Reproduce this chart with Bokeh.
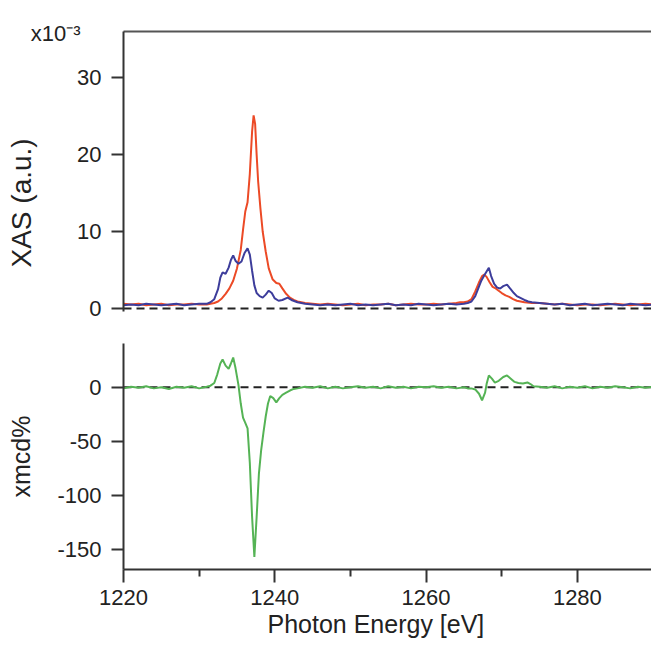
from bokeh.plotting import figure
from bokeh.models import Range1d, FixedTicker, LinearAxis, Span, Title
from bokeh.layouts import column
from bokeh.embed import file_html
from bokeh.resources import INLINE

# ---------------- data ----------------
x_ticks = [1220, 1240, 1260, 1280]
x_minor = [1230, 1250, 1270]
xas_ticks = [0, 10, 20, 30]
xmcd_ticks = [-150, -100, -50, 0]
multiplier_text = "x10\u207b\u00b3"

e_red = [1220, 1221, 1222, 1223, 1224, 1225, 1226, 1227, 1228, 1229, 1230, 1231,
         1231.5, 1232, 1232.5, 1233, 1233.5, 1234, 1234.5, 1235, 1235.5, 1235.8,
         1236.1, 1236.4, 1236.7, 1237.0, 1237.2, 1237.4, 1237.6, 1237.8, 1238.1,
         1238.4, 1238.8, 1239.2, 1239.7, 1240.2, 1240.6, 1241.0, 1241.5, 1242,
         1242.5, 1243, 1243.5, 1244, 1245, 1246, 1247, 1248, 1249, 1250, 1251,
         1252, 1253, 1254, 1255, 1256, 1257, 1258, 1259, 1260, 1261, 1262, 1263,
         1264, 1264.5, 1265, 1265.5, 1266, 1266.5, 1267, 1267.4, 1267.7, 1268,
         1268.4, 1268.8, 1269.2, 1269.6, 1270, 1270.5, 1271, 1271.5, 1272, 1272.5,
         1273, 1274, 1275, 1276, 1277, 1278, 1279, 1280, 1281, 1282, 1283, 1284,
         1285, 1286, 1287, 1288, 1289, 1290]
xas_red = [0.6, 0.5, 0.6, 0.4, 0.5, 0.6, 0.4, 0.5, 0.5, 0.6, 0.5, 0.5,
           0.6, 0.7, 0.9, 1.3, 1.9, 2.6, 3.6, 5.2, 7.6, 10.2,
           12.6, 13.8, 17.5, 23.0, 25.1, 24.0, 20.0, 16.5, 13.0,
           10.0, 7.4, 5.2, 3.8, 3.3, 3.2, 2.6, 1.9, 1.4,
           1.1, 0.9, 0.8, 0.7, 0.6, 0.5, 0.6, 0.5, 0.4, 0.5, 0.6,
           0.4, 0.5, 0.5, 0.6, 0.4, 0.5, 0.6, 0.5, 0.5, 0.6, 0.5, 0.6,
           0.7, 0.8, 0.8, 0.9, 1.2, 2.2, 3.4, 4.2, 4.4, 4.1,
           3.4, 2.8, 2.6, 2.3, 2.0, 1.7, 1.5, 1.2, 1.0, 0.9,
           0.8, 0.7, 0.7, 0.6, 0.5, 0.6, 0.5, 0.4, 0.5, 0.5, 0.4, 0.5,
           0.6, 0.5, 0.4, 0.5, 0.6, 0.5]

e_blue = [1220, 1221, 1222, 1223, 1224, 1225, 1226, 1227, 1228, 1229, 1230, 1231,
          1231.5, 1232, 1232.5, 1232.8, 1233.1, 1233.5, 1233.9, 1234.2, 1234.5,
          1234.8, 1235.2, 1235.6, 1236.0, 1236.4, 1236.7, 1237.0, 1237.3, 1237.6,
          1238.0, 1238.4, 1238.8, 1239.2, 1239.6, 1240.0, 1240.5, 1241, 1241.7,
          1242.2, 1243, 1244, 1245, 1246, 1247, 1248, 1249, 1250, 1251, 1252, 1253,
          1254, 1255, 1256, 1257, 1258, 1259, 1260, 1261, 1262, 1263, 1264, 1265,
          1265.5, 1266, 1266.5, 1266.9, 1267.3, 1267.7, 1268.0, 1268.3, 1268.6,
          1269.0, 1269.4, 1269.8, 1270.2, 1270.7, 1271.1, 1271.6, 1272.0, 1272.4,
          1273, 1273.5, 1274, 1275, 1276, 1277, 1278, 1279, 1280, 1281, 1282, 1283,
          1284, 1285, 1286, 1287, 1288, 1289, 1290]
xas_blue = [0.4, 0.5, 0.4, 0.6, 0.5, 0.4, 0.5, 0.6, 0.4, 0.5, 0.6, 0.6,
            0.8, 1.2, 2.5, 4.0, 4.7, 4.5, 5.3, 6.3, 6.9,
            6.2, 5.8, 6.1, 7.2, 7.8, 7.0, 4.9, 3.0, 2.0,
            1.6, 1.4, 1.8, 2.3, 2.0, 1.3, 1.0, 1.1, 1.4,
            1.1, 0.8, 0.6, 0.5, 0.4, 0.5, 0.4, 0.5, 0.6, 0.4, 0.5, 0.4,
            0.5, 0.6, 0.4, 0.5, 0.4, 0.6, 0.5, 0.4, 0.5, 0.6, 0.5, 0.6,
            0.7, 0.9, 1.6, 2.6, 3.6, 4.3, 4.8, 5.3, 4.2,
            3.2, 2.7, 2.6, 2.9, 3.1, 2.6, 2.0, 1.6, 1.4,
            1.1, 0.9, 0.8, 0.7, 0.6, 0.5, 0.6, 0.4, 0.5, 0.6, 0.4, 0.5,
            0.6, 0.5, 0.4, 0.6, 0.5, 0.4, 0.5]

e_xmcd = [1220, 1221, 1222, 1223, 1224, 1225, 1226, 1227, 1228, 1229, 1230, 1231,
          1231.5, 1232, 1232.4, 1232.8, 1233.1, 1233.5, 1233.9, 1234.2, 1234.5,
          1234.8, 1235.2, 1235.5, 1235.8, 1236.1, 1236.4, 1236.7, 1237.0, 1237.3,
          1237.6, 1237.9, 1238.2, 1238.5, 1238.8, 1239.1, 1239.4, 1239.8, 1240.2,
          1240.6, 1241.0, 1241.5, 1242, 1242.5, 1243, 1244, 1245, 1246, 1247, 1248,
          1249, 1250, 1251, 1252, 1253, 1254, 1255, 1256, 1257, 1258, 1259, 1260,
          1261, 1262, 1263, 1264, 1265, 1265.5, 1266, 1266.5, 1267, 1267.4, 1267.8,
          1268.0, 1268.3, 1268.7, 1269.1, 1269.6, 1270.2, 1270.7, 1271.2, 1271.7,
          1272.2, 1272.8, 1273.4, 1273.8, 1274.2, 1275, 1276, 1277, 1278, 1279,
          1280, 1281, 1282, 1283, 1284, 1285, 1286, 1287, 1288, 1289, 1290]
xmcd = [-1.0, 0.5, -0.5, 1.0, -1.0, 0.0, -1.5, 0.5, -0.5, 1.0, -1.0, 0.5,
        1.5, 4.0, 12.0, 22.0, 25.7, 20.0, 17.0, 22.0, 27.5,
        18.0, 2.0, -15.0, -28.0, -33.0, -38.0, -70.0, -120.0, -157.0,
        -120.0, -80.0, -58.0, -42.0, -27.0, -15.0, -8.0, -10.0, -14.0,
        -10.0, -7.0, -5.0, -3.0, -1.5, -1.0, 0.5, -0.5, 1.0, -1.0, 0.5,
        -1.0, 0.0, 1.0, -0.5, 0.5, -1.0, 1.0, -0.5, 0.5, -1.0, 0.5, 0.0,
        1.0, -0.5, 0.5, -1.0, 0.0, -1.0, -1.0, -2.0, -6.0, -12.0, -5.0,
        3.0, 11.0, 8.0, 4.4, 6.0, 9.5, 11.0, 8.0, 5.0,
        4.0, 3.5, 4.5, 3.0, 1.0, 0.5, -0.5, 1.0, -1.0, 0.5,
        -0.5, 1.0, -1.0, 0.5, -0.5, 1.0, 0.0, -1.0, 0.5, -0.5, 0.5]

# ---------------- styling ----------------
FONT = "Liberation Sans"
AXIS_COLOR = "#333333"
TEXT_COLOR = "#222222"
RED = "#ec4a26"
BLUE = "#3d3d9b"
GREEN = "#55b355"
TICK_FONT = "22px"

x_range = Range1d(1220, 1289.8)


def style_main_y(ax, ticks):
    ax.ticker = FixedTicker(ticks=ticks)
    ax.major_label_overrides = {t: str(t) for t in ticks}
    ax.major_label_text_font = FONT
    ax.major_label_text_font_size = TICK_FONT
    ax.major_label_text_color = TEXT_COLOR
    ax.major_label_standoff = 10
    ax.major_tick_out = 12
    ax.major_tick_in = 0
    ax.minor_tick_out = 0
    ax.minor_tick_in = 0
    ax.axis_line_color = AXIS_COLOR
    ax.axis_line_width = 2
    ax.major_tick_line_color = AXIS_COLOR
    ax.major_tick_line_width = 2


def make_title(text, size, offset, standoff, fallback_standoff):
    kw = dict(text=text, align="left", vertical_align="bottom", offset=offset,
              text_font=FONT, text_font_size=size, text_font_style="normal",
              text_color=TEXT_COLOR)
    try:
        return Title(standoff=standoff, **kw)
    except Exception:
        return Title(standoff=fallback_standoff, **kw)


# ---------------- top panel: XAS ----------------
top = figure(width=651, height=327, x_range=x_range, y_range=Range1d(-0.4, 36),
             output_backend="svg", toolbar_location=None,
             x_axis_location=None, y_axis_location="left",
             min_border_left=123, min_border_right=0,
             min_border_top=31, min_border_bottom=16)
top.outline_line_color = None
top.grid.visible = False
style_main_y(top.yaxis[0], xas_ticks)

# scale multiplier "x10^-3" as the only tick label of a bare middle axis
mult_axis = LinearAxis(ticker=FixedTicker(ticks=[35.7]),
                       major_label_overrides={35.7: multiplier_text},
                       axis_line_color=None, major_tick_out=0, major_tick_in=0,
                       minor_tick_out=0, minor_tick_in=0,
                       major_label_standoff=-6,
                       major_label_text_font=FONT, major_label_text_font_size=TICK_FONT,
                       major_label_text_color=TEXT_COLOR)
top.add_layout(mult_axis, "left")
# rotated y label, positioned along the axis like the original
top.add_layout(make_title("XAS (a.u.)", "28px", 44, -18, 0), "left")

# top frame border
top_axis = LinearAxis(ticker=FixedTicker(ticks=[]), axis_line_color="#555555",
                      axis_line_width=2, major_tick_out=0, major_tick_in=0,
                      minor_tick_out=0, minor_tick_in=0)
top.add_layout(top_axis, "above")

top.add_layout(Span(location=0, dimension="width", line_color="#222222",
                    line_width=2, line_dash="8 5", level="underlay"))
top.line(e_red, xas_red, line_color=RED, line_width=2)
top.line(e_blue, xas_blue, line_color=BLUE, line_width=2)

# ---------------- bottom panel: XMCD ----------------
bot = figure(width=651, height=318, x_range=x_range, y_range=Range1d(-168.5, 40.5),
             output_backend="svg", toolbar_location=None,
             min_border_left=123, min_border_right=0,
             min_border_top=16, min_border_bottom=76)
bot.outline_line_color = None
bot.grid.visible = False
ya = bot.yaxis[0]
style_main_y(ya, xmcd_ticks)
ya.axis_label = "xmcd%"
ya.axis_label_text_font = FONT
ya.axis_label_text_font_size = "25px"
ya.axis_label_text_font_style = "normal"
ya.axis_label_text_color = TEXT_COLOR
ya.axis_label_standoff = 19

xa = bot.xaxis[0]
xa.ticker = FixedTicker(ticks=x_ticks, minor_ticks=x_minor)
xa.major_label_text_font = FONT
xa.major_label_text_font_size = TICK_FONT
xa.major_label_text_color = TEXT_COLOR
xa.major_label_standoff = 7
xa.major_tick_out = 13
xa.major_tick_in = 0
xa.minor_tick_out = 7
xa.minor_tick_in = 0
xa.axis_line_color = AXIS_COLOR
xa.axis_line_width = 2
xa.major_tick_line_color = AXIS_COLOR
xa.major_tick_line_width = 2
xa.minor_tick_line_color = AXIS_COLOR
xa.minor_tick_line_width = 2
bot.add_layout(make_title("Photon Energy [eV]", "25px", 144, 1, 1), "below")

bot.add_layout(Span(location=0, dimension="width", line_color="#222222",
                    line_width=2, line_dash="8 5", level="underlay"))
bot.line(e_xmcd, xmcd, line_color=GREEN, line_width=2)

layout = column(top, bot, spacing=0)

open("out.html", "w").write(file_html(layout, INLINE))
